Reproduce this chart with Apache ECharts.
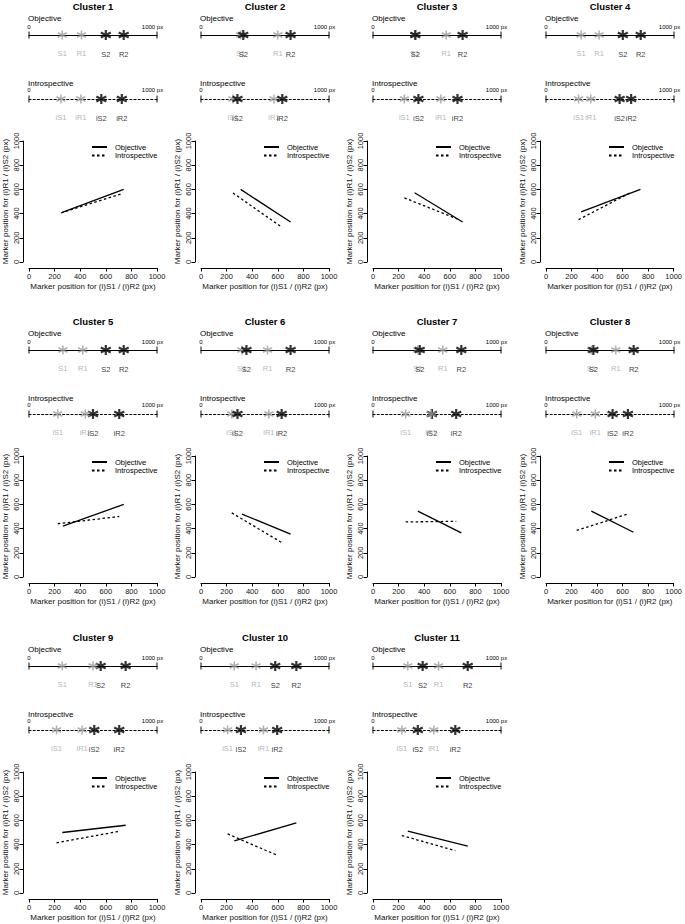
<!DOCTYPE html>
<html><head><meta charset="utf-8">
<script src="https://cdn.jsdelivr.net/npm/echarts@6/dist/echarts.min.js"></script>
<style>html,body{margin:0;padding:0;background:#fff}#c{width:685px;height:924px}</style>
</head><body><div id="c"></div>
<script>
// ---- data ----
const clusters = ['Cluster 1','Cluster 2','Cluster 3','Cluster 4','Cluster 5','Cluster 6','Cluster 7','Cluster 8','Cluster 9','Cluster 10','Cluster 11'];
// Objective marker positions (px, 0-1000 scale)
const objS1 = [260, 310, 325, 275, 265, 320, 350, 355, 260, 260, 272];
const objR1 = [410, 600, 572, 415, 420, 520, 545, 545, 500, 430, 512];
const objS2 = [600, 330, 331, 600, 600, 355, 365, 370, 560, 580, 388];
const objR2 = [740, 700, 700, 740, 740, 700, 690, 685, 755, 745, 740];
// Introspective marker positions
const intS1 = [250, 250, 245, 255, 225, 240, 255, 240, 215, 208, 225];
const intR1 = [405, 570, 530, 350, 440, 530, 455, 385, 415, 488, 475];
const intS2 = [565, 285, 355, 575, 500, 285, 460, 520, 510, 312, 350];
const intR2 = [725, 635, 660, 665, 705, 630, 650, 640, 705, 595, 643];
const markerLabels = ['S1','S2','R1','R2'];
const stripEnds = [0, 1000];
const legendNames = ['Objective','Introspective'];
const xTitle = 'Marker position for (i)S1 / (i)R2 (px)';
const yTitle = 'Marker position for (i)R1 / (i)S2 (px)';

// ---- layout ----
const chart = echarts.init(document.getElementById('c'), null, {renderer:'svg'});
const colX = [29, 201, 373, 546];
const rowY = [0, 315, 631];
const W = 128;
const FONT = '"Liberation Sans", Arial, sans-serif';
const STAR = 'path://M5,0L5,10M0.67,2.5L9.33,7.5M0.67,7.5L9.33,2.5';
const GREY = '#9b9b9b';
const INK = '#000000';

const option = {animation:false, backgroundColor:'#fff', grid:[], xAxis:[], yAxis:[], series:[], legend:[], graphic:{elements:[]}};
const G = (x, y, text, size, align, weight) => option.graphic.elements.push({
  type:'text', x, y, silent:true,
  style:{text, fontSize:size, fontFamily:FONT, fontWeight:weight||'normal', fill:INK, align:align, verticalAlign:'middle'}
});

clusters.forEach((name, i) => {
  const c = i % 4, r = Math.floor(i / 4);
  const x0 = colX[c], y0 = rowY[r];
  G(x0 + W/2, y0 + 6, name, 9.5, 'center', 'bold');

  [[35, 18, 27, 'Objective'], [99, 83, 90, 'Introspective']].forEach(([ly, lblY, numY, lbl], k) => {
    G(x0 - 1, y0 + lblY, lbl, 8, 'left');
    G(x0, y0 + numY, '0', 6, 'center');
    G(x0 + W - 4.5, y0 + numY, '1000 px', 6, 'center');
    const gi = option.grid.length;
    option.grid.push({left:x0, width:W, top:y0 + ly - 10, height:20});
    option.xAxis.push({gridIndex:gi, type:'value', min:0, max:1000, interval:1000,
      axisLine:{onZero:true, lineStyle:{color:INK, width:1.2, type: k ? [2, 2.2] : 'solid'}},
      axisTick:{show:false}, axisLabel:{show:false}, splitLine:{show:false}});
    option.yAxis.push({gridIndex:gi, type:'value', min:-1, max:1, show:false});
    option.series.push({type:'scatter', name:'ends', xAxisIndex:gi, yAxisIndex:gi, silent:true,
      symbol:'rect', symbolSize:[1.2, 7], itemStyle:{color:INK},
      data: stripEnds.map(v => [v, 0])});
    const vals = k ? [intS1[i], intS2[i], intR1[i], intR2[i]] : [objS1[i], objS2[i], objR1[i], objR2[i]];
    const data = vals.map((v, j) => {
      const nm = (k ? 'i' : '') + markerLabels[j];
      const grey = markerLabels[j].indexOf('1') >= 0;
      const col = grey ? GREY : INK;
      return {value:[v, 0], name:nm, symbolSize: grey ? 9 : 10,
        itemStyle:{color:col, borderColor:col, borderWidth: grey ? 1.5 : 2.2},
        label:{color: grey ? '#a0a0a0' : INK}};
    });
    option.series.push({type:'scatter', name:'markers', xAxisIndex:gi, yAxisIndex:gi, silent:true,
      symbol:STAR, data,
      label:{show:true, position:'bottom', distance:9, formatter:'{b}', fontSize:7.5, fontFamily:FONT}});
  });

  const gi = option.grid.length;
  option.grid.push({left:x0, width:W, top:y0 + 141, height:121});
  const axCommon = {gridIndex:gi, type:'value', min:0, max:1000, interval:200, offset:6,
    axisLine:{onZero:false, lineStyle:{color:INK, width:1}},
    axisTick:{length:3.5, lineStyle:{color:INK, width:1}},
    splitLine:{show:false}, nameLocation:'middle',
    nameTextStyle:{fontSize:8, color:'#111', fontFamily:FONT}};
  const fmt = v => String(v);
  option.xAxis.push(Object.assign({}, axCommon, {name:xTitle, nameGap:14,
    axisLabel:{color:'#111', fontSize:7.5, margin:4, fontFamily:FONT, formatter:fmt}}));
  option.yAxis.push(Object.assign({}, axCommon, {name:yTitle, nameGap:14,
    axisLabel:{color:'#111', fontSize:7.5, margin:3, rotate:90, fontFamily:FONT, formatter:fmt}}));
  option.series.push({type:'line', name:'Objective', xAxisIndex:gi, yAxisIndex:gi, symbol:'none', silent:true,
    data:[[objS1[i], objR1[i]], [objR2[i], objS2[i]]],
    lineStyle:{color:INK, width:1.3}, itemStyle:{color:INK}});
  option.series.push({type:'line', name:'Introspective', xAxisIndex:gi, yAxisIndex:gi, symbol:'none', silent:true,
    data:[[intS1[i], intR1[i]], [intR2[i], intS2[i]]],
    lineStyle:{color:INK, width:1.3, type:[2.5, 2.5]}, itemStyle:{color:INK}});
  option.legend.push({data:legendNames, orient:'vertical', left:x0 + 62, top:y0 + 143, padding:0,
    itemWidth:15, itemHeight:6, itemGap:0.5, selectedMode:false,
    itemStyle:{opacity:0},
    textStyle:{fontSize:7.5, fontFamily:FONT, color:INK, padding:[0,0,0,3]}});
});

chart.setOption(option);
</script>
</body></html>
